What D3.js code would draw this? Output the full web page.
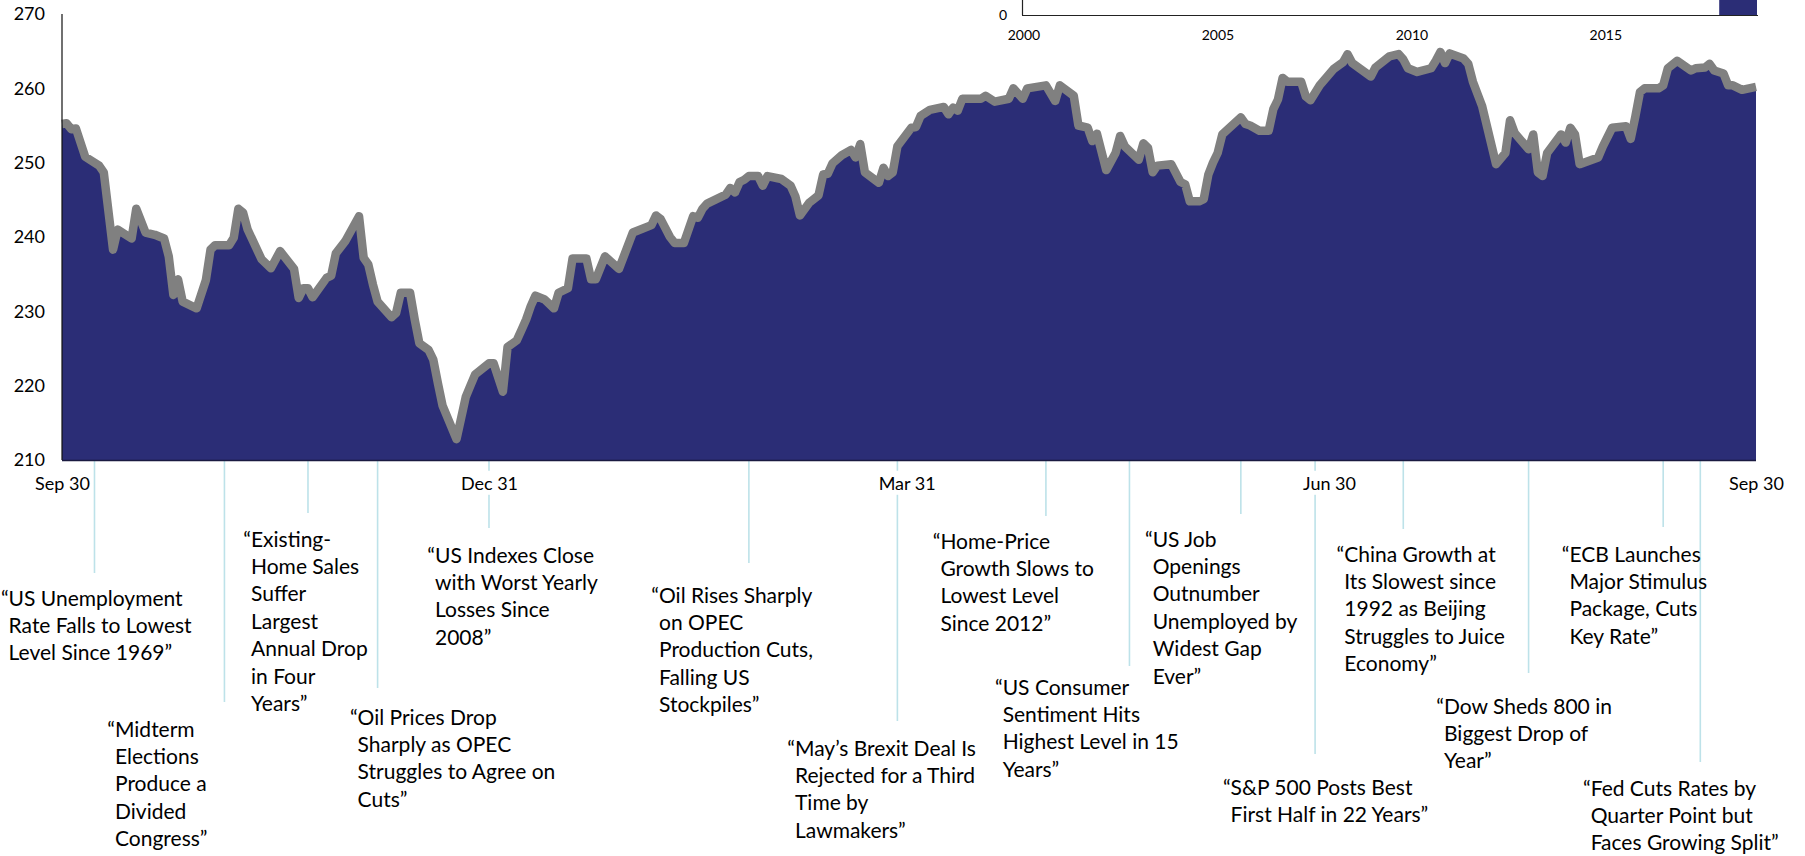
<!DOCTYPE html>
<html><head><meta charset="utf-8">
<script src="https://cdn.jsdelivr.net/npm/d3@7"></script>
<style>
body{margin:0;background:#fff}
svg{display:block}
text{font-family:Lato,"Open Sans",sans-serif;fill:#000}
</style>
</head><body>
<svg id="c" width="1805" height="856"></svg>
<script>
// ---------------- DATA ----------------
const dates = [
"2018-09-30","2018-10-01","2018-10-02","2018-10-03","2018-10-05","2018-10-08","2018-10-09","2018-10-11","2018-10-12","2018-10-15",
"2018-10-16","2018-10-18","2018-10-20","2018-10-22","2018-10-23","2018-10-24","2018-10-25","2018-10-26","2018-10-29","2018-10-31",
"2018-11-01","2018-11-02","2018-11-05","2018-11-06","2018-11-07","2018-11-08","2018-11-09","2018-11-12","2018-11-14","2018-11-16",
"2018-11-19","2018-11-20","2018-11-21","2018-11-22","2018-11-23","2018-11-26","2018-11-27","2018-11-28","2018-11-30","2018-12-03",
"2018-12-04","2018-12-05","2018-12-06","2018-12-07","2018-12-10","2018-12-11","2018-12-12","2018-12-14","2018-12-15","2018-12-16",
"2018-12-18","2018-12-19","2018-12-20","2018-12-21","2018-12-24","2018-12-26","2018-12-27","2018-12-28","2018-12-31","2019-01-01",
"2019-01-03","2019-01-04","2019-01-06","2019-01-07","2019-01-08","2019-01-09","2019-01-10","2019-01-12","2019-01-14","2019-01-15",
"2019-01-17","2019-01-18","2019-01-21","2019-01-22","2019-01-23","2019-01-25","2019-01-28","2019-01-31","2019-02-04","2019-02-05",
"2019-02-06","2019-02-08","2019-02-09","2019-02-11","2019-02-13","2019-02-14","2019-02-15","2019-02-16","2019-02-20","2019-02-21",
"2019-02-22","2019-02-23","2019-02-24","2019-02-25","2019-02-27","2019-02-28","2019-03-01","2019-03-04","2019-03-06","2019-03-07",
"2019-03-08","2019-03-10","2019-03-12","2019-03-13","2019-03-14","2019-03-15","2019-03-17","2019-03-19","2019-03-20","2019-03-21",
"2019-03-22","2019-03-25","2019-03-26","2019-03-27","2019-03-28","2019-03-29","2019-04-01","2019-04-02","2019-04-03","2019-04-05",
"2019-04-08","2019-04-09","2019-04-10","2019-04-11","2019-04-12","2019-04-16","2019-04-17","2019-04-19","2019-04-22","2019-04-23",
"2019-04-25","2019-04-26","2019-04-28","2019-04-30","2019-05-02","2019-05-03","2019-05-06","2019-05-07","2019-05-09","2019-05-10",
"2019-05-11","2019-05-13","2019-05-15","2019-05-16","2019-05-17","2019-05-20","2019-05-21","2019-05-22","2019-05-23","2019-05-24",
"2019-05-27","2019-05-29","2019-05-30","2019-05-31","2019-06-02","2019-06-03","2019-06-04","2019-06-05","2019-06-06","2019-06-07",
"2019-06-11","2019-06-12","2019-06-13","2019-06-15","2019-06-17","2019-06-18","2019-06-19","2019-06-20","2019-06-21","2019-06-24",
"2019-06-25","2019-06-26","2019-06-28","2019-07-01","2019-07-03","2019-07-04","2019-07-05","2019-07-09","2019-07-10","2019-07-13",
"2019-07-15","2019-07-16","2019-07-17","2019-07-19","2019-07-22","2019-07-23","2019-07-24","2019-07-25","2019-07-26","2019-07-29",
"2019-07-30","2019-07-31","2019-08-02","2019-08-05","2019-08-07","2019-08-08","2019-08-09","2019-08-12","2019-08-13","2019-08-14",
"2019-08-15","2019-08-16","2019-08-19","2019-08-20","2019-08-21","2019-08-22","2019-08-23","2019-08-27","2019-08-28","2019-08-30",
"2019-09-02","2019-09-03","2019-09-04","2019-09-05","2019-09-06","2019-09-09","2019-09-10","2019-09-11","2019-09-13","2019-09-16",
"2019-09-17","2019-09-19","2019-09-20","2019-09-21","2019-09-23","2019-09-24","2019-09-25","2019-09-27","2019-09-30"
];
const values = [
255.2,255.3,254.5,254.6,250.8,249.6,248.7,238.3,241.0,239.8,
243.8,240.6,240.3,239.8,237.4,232.2,234.3,231.3,230.4,234.2,
238.3,238.9,238.9,239.9,243.8,243.3,241.0,237.0,235.8,238.1,
235.7,231.8,233.1,233.1,231.9,234.5,234.8,237.8,239.4,242.8,
237.2,236.3,233.6,231.3,229.2,229.8,232.5,232.5,228.9,225.7,
224.8,223.5,220.3,217.3,212.8,218.5,220.0,221.5,223.0,223.0,
219.2,225.2,226.1,227.5,228.9,230.7,232.1,231.6,230.4,232.5,
233.1,237.1,237.1,234.3,234.3,237.4,235.7,240.6,241.6,242.9,
242.4,240.0,239.2,239.2,242.8,242.6,243.8,244.5,245.7,246.6,
246.0,247.4,247.7,248.2,248.2,246.9,248.2,247.8,246.9,245.5,
242.9,244.6,245.6,248.4,248.5,249.9,251.0,251.7,250.7,252.5,
248.7,247.3,249.3,248.2,248.7,252.2,254.7,254.8,256.3,257.1,
257.5,256.5,257.4,257.0,258.6,258.6,259.0,258.2,258.6,260.0,
258.6,260.0,260.2,260.4,258.3,260.4,259.0,255.0,254.7,252.9,
253.9,249.0,251.3,253.6,252.2,250.4,252.6,252.0,248.7,249.6,
249.8,247.4,247.1,244.8,244.8,245.1,248.4,250.0,251.3,253.8,
256.1,255.2,255.0,254.3,254.3,257.2,258.5,261.4,260.9,260.9,
258.9,258.4,260.4,262.6,263.5,264.6,263.4,261.6,262.8,264.3,
264.6,263.9,262.7,262.2,262.7,263.7,264.9,263.4,264.7,264.0,
263.3,260.9,257.6,249.8,251.3,255.7,254.0,251.8,253.8,248.7,
248.2,251.3,253.8,252.7,254.7,253.8,249.8,250.7,252.2,254.7,
254.9,253.2,256.2,259.5,260.0,260.0,260.4,262.7,263.7,262.4,
262.7,262.8,263.3,262.4,262.0,260.4,260.4,259.8,260.2
];
const yTicks = [210, 220, 230, 240, 250, 260, 270];
const xTickDates = ["2018-09-30", "2018-12-31", "2019-03-31", "2019-06-30", "2019-09-30"];
const xTickLabels = ["Sep 30", "Dec 31", "Mar 31", "Jun 30", "Sep 30"];

const eventDates = [
"2018-10-07","2018-11-04","2018-11-22","2018-12-07","2018-12-31",
"2019-02-25","2019-03-29","2019-04-30","2019-05-18","2019-06-11",
"2019-06-27","2019-07-16","2019-08-12","2019-09-10","2019-09-18"
];
const eventTexts = [
["“US Unemployment", "Rate Falls to Lowest", "Level Since 1969”"],
["“Midterm", "Elections", "Produce a", "Divided", "Congress”"],
["“Existing-", "Home Sales", "Suffer", "Largest", "Annual Drop", "in Four", "Years”"],
["“Oil Prices Drop", "Sharply as OPEC", "Struggles to Agree on", "Cuts”"],
["“US Indexes Close", "with Worst Yearly", "Losses Since", "2008”"],
["“Oil Rises Sharply", "on OPEC", "Production Cuts,", "Falling US", "Stockpiles”"],
["“May’s Brexit Deal Is", "Rejected for a Third", "Time by", "Lawmakers”"],
["“Home-Price", "Growth Slows to", "Lowest Level", "Since 2012”"],
["“US Consumer", "Sentiment Hits", "Highest Level in 15", "Years”"],
["“US Job", "Openings", "Outnumber", "Unemployed by", "Widest Gap", "Ever”"],
["“S&P 500 Posts Best", "First Half in 22 Years”"],
["“China Growth at", "Its Slowest since", "1992 as Beijing", "Struggles to Juice", "Economy”"],
["“Dow Sheds 800 in", "Biggest Drop of", "Year”"],
["“ECB Launches", "Major Stimulus", "Package, Cuts", "Key Rate”"],
["“Fed Cuts Rates by", "Quarter Point but", "Faces Growing Split”"]
];

// inset (cropped chart at the top)
const insetYears = [2018];
const insetValues = [100];
const insetTickYears = [2000, 2005, 2010, 2015];

// ---------------- LAYOUT (positions only) ----------------
const plot = {left: 62, right: 1756, top: 14, bottom: 460};
// per annotation: connector end y, text left x, first line center y
const eventLayout = [
 {end:573, tx:8.6,   ty:598},
 {end:702, tx:115,   ty:729},
 {end:513, tx:251,   ty:539},
 {end:688, tx:357.6, ty:717},
 {end:528, tx:435,   ty:555},
 {end:563, tx:659,   ty:595},
 {end:721, tx:795,   ty:748},
 {end:516, tx:940.4, ty:541},
 {end:666, tx:1002.7,ty:687},
 {end:514, tx:1152.7,ty:539},
 {end:754, tx:1230.6,ty:787},
 {end:529, tx:1344.3,ty:554},
 {end:673, tx:1444,  ty:706},
 {end:527, tx:1569.4,ty:554},
 {end:762, tx:1590.7,ty:788}
];
const lineGap = 27.4;
const annFont = 21, tickFont = 18, insetFont = 14;

// ---------------- DRAW ----------------
const parse = d3.timeParse("%Y-%m-%d");
const series = dates.map((d, i) => ({date: parse(d), v: values[i]}));

const svg = d3.select("#c");

const x = d3.scaleTime()
  .domain([parse("2018-09-30"), parse("2019-09-30")])
  .range([plot.left, plot.right]);
const y = d3.scaleLinear().domain([210, 270]).range([plot.bottom, plot.top]);

// inset chart (top-right, cropped)
const ix = d3.scaleLinear().domain([2000, 2019]).range([1024, 1761]);
const iy = d3.scaleLinear().domain([0, 10]).range([15, -5]);
const inset = svg.append("g");
inset.selectAll("rect").data(insetYears).join("rect")
  .attr("x", (d) => ix(d) - 3)
  .attr("width", (d) => ix(d + 1) - ix(d) - 1)
  .attr("y", (d, i) => iy(insetValues[i]))
  .attr("height", (d, i) => iy(0) - iy(insetValues[i]))
  .attr("fill", "#2b2d76");
inset.append("line").attr("x1", 1022.5).attr("x2", 1022.5).attr("y1", 0).attr("y2", iy(0))
  .attr("stroke", "#222").attr("stroke-width", 1.2);
inset.append("line").attr("x1", 1022).attr("x2", 1758).attr("y1", iy(0) + 0.5).attr("y2", iy(0) + 0.5)
  .attr("stroke", "#222").attr("stroke-width", 1.2);
inset.append("text").attr("x", 1003).attr("y", iy(0) + 5).attr("text-anchor", "middle")
  .style("font-size", insetFont + "px").text("0");
inset.selectAll("text.yr").data(insetTickYears).join("text").attr("class", "yr")
  .attr("x", (d) => ix(d)).attr("y", 40).attr("text-anchor", "middle")
  .style("font-size", insetFont + "px").text((d) => d);

// annotation connector lines
const ann = svg.append("g");
ann.selectAll("line").data(eventDates).join("line")
  .attr("x1", (d) => x(parse(d))).attr("x2", (d) => x(parse(d)))
  .attr("y1", plot.bottom + 1).attr("y2", (d, i) => eventLayout[i].end)
  .attr("stroke", "#bde2e9").attr("stroke-width", 1.6);

// area + line
const area = d3.area().x((d) => x(d.date)).y0(y(210)).y1((d) => y(d.v));
const line = d3.line().x((d) => x(d.date)).y((d) => y(d.v));
svg.append("path").datum(series).attr("d", area).attr("fill", "#2b2d76");
svg.append("path").datum(series).attr("d", line).attr("fill", "none")
  .attr("stroke", "#808080").attr("stroke-width", 8.5).attr("stroke-linejoin", "round");

// axes lines
svg.append("line").attr("x1", plot.left).attr("x2", plot.left).attr("y1", plot.top).attr("y2", plot.bottom)
  .attr("stroke", "#111").attr("stroke-width", 1.2);
svg.append("line").attr("x1", plot.left).attr("x2", plot.right).attr("y1", plot.bottom + 0.5).attr("y2", plot.bottom + 0.5)
  .attr("stroke", "#1a1a40").attr("stroke-width", 1.6);

// y tick labels
const yAxis = d3.axisLeft(y).tickValues(yTicks).tickSize(0).tickPadding(17);
const gy = svg.append("g").attr("transform", `translate(${plot.left},0)`).call(yAxis);
gy.select(".domain").remove();
gy.selectAll("text").style("font-size", tickFont + "px").attr("font-family", "Lato");

// x tick labels with white background
const xAxis = d3.axisBottom(x).tickValues(xTickDates.map(parse))
  .tickFormat((d, i) => xTickLabels[i]).tickSize(0).tickPadding(17);
const gx = svg.append("g").attr("transform", `translate(0,${plot.bottom})`).call(xAxis);
gx.select(".domain").remove();
gx.selectAll("text").style("font-size", tickFont + "px").attr("font-family", "Lato");
gx.selectAll(".tick").each(function () {
  const t = d3.select(this).select("text");
  const bb = t.node().getBBox();
  d3.select(this).insert("rect", "text")
    .attr("x", bb.x - 3).attr("y", bb.y - 1).attr("width", bb.width + 6).attr("height", bb.height + 2)
    .attr("fill", "#fff");
});

// annotation texts
const tmp = svg.append("text").style("font-size", annFont + "px").text("“");
const qw = tmp.node().getComputedTextLength();
tmp.remove();
eventTexts.forEach((lines, i) => {
  const L = eventLayout[i];
  const t = svg.append("text").style("font-size", annFont + "px");
  lines.forEach((s, j) => {
    t.append("tspan")
      .attr("x", j === 0 ? L.tx - qw : L.tx)
      .attr("y", L.ty + j * lineGap + annFont * 0.36)
      .text(s);
  });
});
</script>
</body></html>
